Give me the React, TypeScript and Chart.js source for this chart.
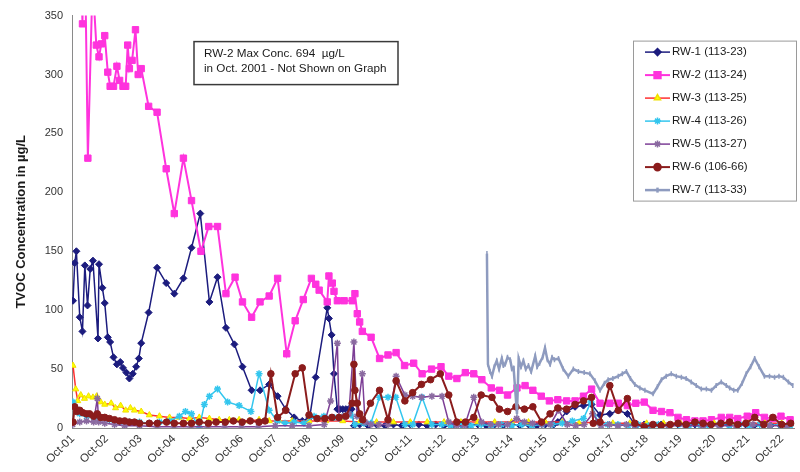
import React, { useEffect, useRef } from "react";
import { Chart, registerables } from "chart.js";
import { drawPoint } from "chart.js/helpers";

Chart.register(...registerables);

// ---------- DATA ----------
const xTickLabels = ["Oct-01","Oct-02","Oct-03","Oct-04","Oct-05","Oct-06","Oct-07","Oct-08","Oct-09","Oct-10","Oct-11","Oct-12","Oct-13","Oct-14","Oct-15","Oct-16","Oct-17","Oct-18","Oct-19","Oct-20","Oct-21","Oct-22"];
const firstTickYear = 2001.75;

const seriesNames = ["RW-1 (113-23)","RW-2 (113-24)","RW-3 (113-25)","RW-4 (113-26)","RW-5 (113-27)","RW-6 (106-66)","RW-7 (113-33)"];

const noteLines = ["RW-2 Max Conc. 694  \u00b5g/L", "in Oct. 2001 - Not Shown on Graph"];
const yTitle = "TVOC Concentration in \u00b5g/L";

const rw1Year = [2001.76,2001.81,2001.86,2001.96,2002.04,2002.11,2002.19,2002.27,2002.35,2002.50,2002.53,2002.63,2002.70,2002.79,2002.86,2002.96,2003.06,2003.16,2003.24,2003.34,2003.43,2003.53,2003.63,2003.71,2003.78,2004.00,2004.25,2004.52,2004.76,2005.03,2005.27,2005.53,2005.80,2006.04,2006.29,2006.54,2006.78,2007.05,2007.30,2007.57,2007.82,2008.06,2008.31,2008.55,2008.77,2008.95,2009.29,2009.34,2009.42,2009.49,2009.59,2009.67,2009.75,2009.84,2009.92,2010.01,2010.08,2010.25,2010.50,2010.75,2011.00,2011.25,2011.50,2011.75,2012.00,2012.25,2012.50,2012.75,2013.00,2013.25,2013.50,2013.75,2014.00,2014.25,2014.50,2014.75,2015.00,2015.25,2015.50,2015.75,2016.00,2016.12,2016.38,2016.63,2016.88,2017.12,2017.37,2017.66,2017.91,2018.18,2018.43,2018.68,2018.93,2019.18,2019.43,2019.68,2019.93,2020.18,2020.43,2020.68,2020.93,2021.18,2021.43,2021.68,2021.93,2022.18,2022.43,2022.68,2022.93];
const rw1Val = [108,140,150,94,82,138,104,135,142,76,139,119,106,77,73,60,54,56,51,47,42,46,52,59,72,98,136,123,114,127,153,182,107,128,85,71,52,32,32,37,27,16,9,6,9,43,102,93,79,46,16,16,16,16,16,16,2,3,2,3,2,3,2,3,3,2,3,2,2,3,2,3,2,3,2,3,2,3,2,3,3,5,14,18,19,20,11,12,15,12,2,3,2,3,2,3,2,3,2,3,2,3,2,3,2,3,2,3,2];

const rw2Year = [2001.75,2002.04,2002.09,2002.20,2002.34,2002.45,2002.53,2002.60,2002.70,2002.79,2002.86,2002.96,2003.06,2003.14,2003.24,2003.32,2003.38,2003.43,2003.51,2003.61,2003.69,2003.78,2004.00,2004.25,2004.52,2004.76,2005.03,2005.27,2005.55,2005.78,2006.04,2006.29,2006.56,2006.78,2007.05,2007.30,2007.57,2007.82,2008.09,2008.34,2008.58,2008.82,2008.95,2009.05,2009.29,2009.34,2009.44,2009.49,2009.59,2009.79,2010.03,2010.11,2010.18,2010.25,2010.33,2010.59,2010.84,2011.09,2011.33,2011.58,2011.85,2012.10,2012.38,2012.66,2012.89,2013.13,2013.38,2013.63,2013.87,2014.15,2014.39,2014.63,2014.91,2015.15,2015.38,2015.63,2015.87,2016.12,2016.38,2016.63,2016.88,2017.12,2017.37,2017.66,2017.91,2018.18,2018.43,2018.68,2018.94,2019.19,2019.44,2019.68,2019.93,2020.18,2020.42,2020.67,2020.96,2021.21,2021.45,2021.73,2021.98,2022.24,2022.49,2022.73,2023.00];
const rw2Val = [694,343,450,229,380,325,315,326,333,302,290,290,307,295,290,290,325,305,312,338,300,305,273,268,220,182,229,193,150,171,171,114,128,107,94,107,112,127,63,91,109,127,122,117,107,129,123,116,108,108,108,114,97,90,82,77,59,62,64,53,55,46,50,52,44,42,47,46,41,34,32,28,34,36,32,27,23,24,23,23,27,33,21,21,21,19,21,22,15,14,13,9,7,6,6,7,9,9,8,10,13,9,8,10,7];

const rw3Year = [2001.76,2001.84,2001.90,2001.99,2002.10,2002.22,2002.35,2002.46,2002.58,2002.70,2002.89,2003.02,2003.17,2003.32,2003.46,2003.58,2003.78,2004.02,2004.32,2004.62,2004.91,2005.21,2005.50,2005.80,2006.09,2006.39,2006.68,2006.98,2007.27,2007.57,2007.87,2008.25,2008.75,2009.25,2009.75,2010.25,2010.75,2011.25,2011.75,2012.25,2012.75,2013.25,2013.75,2014.25,2014.75,2015.25,2015.75,2016.25,2016.75,2017.25,2017.75,2018.25,2018.75,2019.25,2019.75,2020.25,2020.75,2021.25,2021.75,2022.25,2022.75];
const rw3Val = [53,33,23,28,25,27,26,27,22,20,21,17,19,15,17,15,14,11,10,9,9,8,9,8,7,7,7,6,7,6,6,6,6,6,6,5,5,5,5,5,5,5,5,5,5,5,5,5,4,5,4,4,4,4,4,4,4,4,4,4,4];

const rw4Year = [2001.76,2001.81,2001.96,2002.16,2002.37,2002.55,2002.84,2003.14,2003.43,2003.73,2004.02,2004.32,2004.62,2004.91,2005.09,2005.27,2005.50,2005.65,2005.80,2006.04,2006.34,2006.68,2007.03,2007.27,2007.57,2007.81,2008.04,2008.31,2008.60,2008.90,2009.19,2009.49,2009.79,2009.99,2010.11,2010.38,2010.58,2010.84,2011.09,2011.32,2011.59,2011.82,2012.10,2012.39,2012.68,2012.95,2013.25,2013.55,2013.85,2014.15,2014.45,2014.75,2015.05,2015.35,2015.65,2015.95,2016.25,2016.55,2016.88,2017.10,2017.30,2017.60,2017.90,2018.20,2018.50,2018.80,2019.10,2019.40,2019.70,2020.00,2020.30,2020.60,2020.90,2021.20,2021.50,2021.80,2022.10,2022.40,2022.70,2023.00];
const rw4Val = [22,18,12,10,9,8,7,5,5,5,4,5,6,10,14,12,0,20,27,33,22,19,14,46,15,6,4,5,4,10,10,9,10,11,3,4,4,26,26,26,3,3,26,3,3,2,3,2,3,2,3,2,3,2,3,3,4,6,8,22,5,3,3,2,3,2,3,2,3,2,3,2,3,2,3,2,3,2,3,2];

const rw5Year = [2001.75,2001.96,2002.16,2002.37,2002.48,2002.52,2002.70,2002.99,2003.29,2003.73,2004.25,2004.75,2005.25,2005.75,2006.25,2006.75,2007.25,2007.75,2008.25,2008.75,2009.20,2009.39,2009.59,2009.64,2009.79,2009.93,2010.08,2010.17,2010.33,2010.41,2010.58,2010.82,2011.09,2011.33,2011.59,2011.82,2012.08,2012.39,2012.69,2012.89,2013.12,2013.36,2013.63,2013.86,2014.13,2014.36,2014.63,2014.90,2015.13,2015.37,2015.64,2015.90,2016.14,2016.40,2016.65,2016.90,2017.15,2017.40,2017.65,2017.90,2018.15,2018.40,2018.90,2019.40,2019.90,2020.40,2020.90,2021.40,2021.90,2022.40,2022.90];
const rw5Val = [3,5,6,5,25,5,4,3,2,2,1,1,1,1,1,1,1,2,2,2,3,23,72,8,10,12,73,10,46,5,3,3,3,44,28,27,26,27,27,5,2,2,26,5,3,3,3,8,5,4,3,3,15,3,2,3,12,2,3,2,3,2,2,2,2,2,2,2,3,2,2];

const rw6Year = [2001.76,2001.81,2001.87,2001.96,2002.05,2002.16,2002.25,2002.37,2002.48,2002.58,2002.70,2002.84,2002.99,2003.14,2003.29,2003.43,2003.58,2003.73,2004.02,2004.26,2004.53,2004.76,2005.03,2005.27,2005.50,2005.77,2006.00,2006.27,2006.51,2006.77,2007.01,2007.27,2007.45,2007.62,2007.82,2008.06,2008.34,2008.55,2008.75,2008.99,2009.22,2009.43,2009.64,2009.84,2010.03,2010.08,2010.11,2010.18,2010.25,2010.34,2010.57,2010.84,2011.09,2011.33,2011.59,2011.82,2012.08,2012.35,2012.64,2012.89,2013.13,2013.38,2013.63,2013.85,2014.17,2014.39,2014.63,2014.88,2015.13,2015.38,2015.64,2015.89,2016.12,2016.38,2016.63,2016.88,2017.12,2017.17,2017.37,2017.66,2017.91,2018.18,2018.40,2018.68,2018.94,2019.18,2019.45,2019.68,2019.92,2020.18,2020.42,2020.66,2020.95,2021.21,2021.45,2021.69,2021.95,2022.22,2022.49,2022.75,2023.02];
const rw6Val = [5,18,14,15,13,12,12,10,12,9,9,8,7,6,6,5,5,4,4,4,5,4,4,4,5,4,5,5,6,5,6,5,6,46,9,15,46,51,11,8,8,9,9,10,21,54,32,21,12,7,21,32,7,40,23,30,37,41,46,28,5,5,9,28,26,16,14,18,16,18,5,12,17,16,20,23,26,4,5,36,15,25,4,1,3,2,3,4,3,5,4,3,4,5,3,4,9,3,9,3,4];

const rw7Year = [2014.02,2014.05,2014.11,2014.17,2014.24,2014.31,2014.38,2014.46,2014.51,2014.56,2014.63,2014.71,2014.76,2014.81,2014.91,2014.96,2015.03,2015.10,2015.17,2015.25,2015.33,2015.45,2015.51,2015.58,2015.67,2015.74,2015.81,2015.89,2015.95,2016.02,2016.14,2016.28,2016.43,2016.58,2016.73,2016.90,2017.07,2017.22,2017.37,2017.50,2017.61,2017.75,2017.91,2018.03,2018.15,2018.27,2018.40,2018.55,2018.70,2018.94,2019.07,2019.19,2019.33,2019.48,2019.63,2019.78,2019.92,2020.07,2020.22,2020.37,2020.52,2020.67,2020.81,2020.96,2021.11,2021.21,2021.33,2021.45,2021.58,2021.70,2021.83,2021.95,2022.08,2022.24,2022.39,2022.54,2022.67,2022.80,2022.95,2023.08];
const rw7Val = [148,54,48,44,52,57,50,59,53,54,60,58,50,51,12,59,52,57,50,53,48,61,52,55,60,68,58,54,60,58,59,50,44,50,48,47,46,40,32,38,41,42,44,46,48,42,37,34,32,29,35,41,44,46,44,43,42,39,36,33,33,32,36,39,36,34,32,32,38,46,52,59,52,44,44,43,44,43,39,36];

const yMax = 350;
const yStep = 50;

// ---------- helpers ----------
const pts = (xs: number[], ys: number[]) => xs.map((x, i) => ({ x, y: ys[i] }));

const FONT = "'Liberation Sans', Arial, Helvetica, sans-serif";

const overlayPlugin = {
  id: "overlay",
  afterDraw(chart: any) {
    const ctx: CanvasRenderingContext2D = chart.ctx;
    const area = chart.chartArea;
    ctx.save();

    // note box
    const nx = area.left + 122, ny = area.top + 26, nw = 204, nh = 43;
    ctx.fillStyle = "#ffffff";
    ctx.fillRect(nx, ny, nw, nh);
    ctx.strokeStyle = "#3a3a3a";
    ctx.lineWidth = 1.5;
    ctx.strokeRect(nx, ny, nw, nh);
    ctx.fillStyle = "#1a1a1a";
    ctx.font = `11.7px ${FONT}`;
    ctx.textAlign = "left";
    ctx.textBaseline = "middle";
    ctx.fillText(noteLines[0], nx + 10, ny + 12);
    ctx.fillText(noteLines[1], nx + 10, ny + 27);

    // legend box
    const lx = area.left + 561, ly = area.top + 25, lw = 163, lh = 160;
    ctx.fillStyle = "#ffffff";
    ctx.fillRect(lx, ly, lw, lh);
    ctx.strokeStyle = "#9a9a9a";
    ctx.lineWidth = 1;
    ctx.strokeRect(lx + 0.5, ly + 0.5, lw, lh);
    chart.data.datasets.forEach((ds: any, i: number) => {
      const y = ly + 11.5 + i * 23;
      ctx.strokeStyle = ds.borderColor;
      ctx.lineWidth = ds.borderWidth;
      ctx.beginPath();
      ctx.moveTo(lx + 12, y);
      ctx.lineTo(lx + 37, y);
      ctx.stroke();
      ctx.fillStyle = ds.pointBackgroundColor;
      ctx.strokeStyle = ds.pointBorderColor;
      drawPoint(ctx, {
        pointStyle: ds.pointStyle,
        rotation: ds.pointRotation || 0,
        radius: ds.pointRadius,
        borderWidth: ds.pointBorderWidth,
      } as any, lx + 24.5, y);
      ctx.fillStyle = "#1a1a1a";
      ctx.font = `11.5px ${FONT}`;
      ctx.textAlign = "left";
      ctx.textBaseline = "middle";
      ctx.fillText(seriesNames[i], lx + 39, y);
    });
    ctx.restore();
  },
};

export default function App() {
  const ref = useRef<HTMLCanvasElement>(null);

  useEffect(() => {
    if (!ref.current) return;
    Chart.defaults.font.family = FONT;
    const mk = (i: number, xs: number[], ys: number[], line: string, w: number, style: string, r: number, bg: string, bc: string, bw: number, rot = 0) => ({
      label: seriesNames[i],
      data: pts(xs, ys),
      borderColor: line,
      borderWidth: w,
      pointStyle: style,
      pointRadius: r,
      pointRotation: rot,
      pointBackgroundColor: bg,
      pointBorderColor: bc,
      pointBorderWidth: bw,
      tension: 0,
      order: 6 - i,
    });
    const datasets = [
      mk(0, rw1Year, rw1Val, "#1c1c7e", 1.5, "rectRot", 3.5, "#1c1c7e", "#1c1c7e", 1),
      mk(1, rw2Year, rw2Val, "#ff33dd", 2, "rect", 4.5, "#ff33dd", "#ff33dd", 1),
      mk(2, rw3Year, rw3Val, "#ff3030", 1.5, "triangle", 3.5, "#ffff00", "#f0e000", 1),
      mk(3, rw4Year, rw4Val, "#33c6ee", 1.5, "star", 3.5, "#33c6ee", "#33c6ee", 1.5),
      mk(4, rw5Year, rw5Val, "#7d3f96", 1.5, "star", 3.5, "#8a6aa0", "#8a6aa0", 1.5),
      mk(5, rw6Year, rw6Val, "#8b1c1c", 2, "circle", 3.3, "#8b1c1c", "#8b1c1c", 1),
      mk(6, rw7Year, rw7Val, "#8e9bbf", 2.5, "line", 2.5, "#8e9bbf", "#8e9bbf", 1.5, 90),
    ];
    const chart = new Chart(ref.current, {
      type: "line",
      data: { datasets } as any,
      options: {
        animation: false,
        responsive: false,
        layout: { padding: { top: 8, right: 3, left: 0, bottom: 0 } },
        plugins: { legend: { display: false }, tooltip: { enabled: false } },
        scales: {
          x: {
            type: "linear",
            min: firstTickYear - 0.02,
            max: firstTickYear + 21.38,
            afterBuildTicks: (s: any) => {
              s.ticks = xTickLabels.map((_, i) => ({ value: firstTickYear + i }));
            },
            afterFit: (s: any) => { s.height = 44; },
            ticks: {
              autoSkip: false,
              minRotation: 45,
              maxRotation: 45,
              padding: 4,
              color: "#333333",
              font: { size: 11.5 },
              callback: (_v: any, i: number) => xTickLabels[i],
            },
            grid: { display: false, drawTicks: false },
            border: { display: true, color: "#8a8a8a", width: 1 },
          },
          y: {
            min: 0,
            max: yMax,
            afterFit: (s: any) => { s.width = 72; },
            ticks: { stepSize: yStep, padding: 9, color: "#333333", font: { size: 11 } },
            grid: { display: false, drawTicks: false },
            border: { display: true, color: "#8a8a8a", width: 1 },
            title: {
              display: true,
              text: yTitle,
              color: "#1a1a1a",
              font: { size: 13, weight: "bold" },
              padding: { top: 14, bottom: 0 },
            },
          },
        },
      } as any,
      plugins: [overlayPlugin],
    });
    return () => chart.destroy();
  }, []);

  return (
    <div style={{ position: "absolute", left: 0, top: 0, width: 800, height: 472, background: "#fff" }}>
      <canvas ref={ref} width={800} height={472} />
    </div>
  );
}
